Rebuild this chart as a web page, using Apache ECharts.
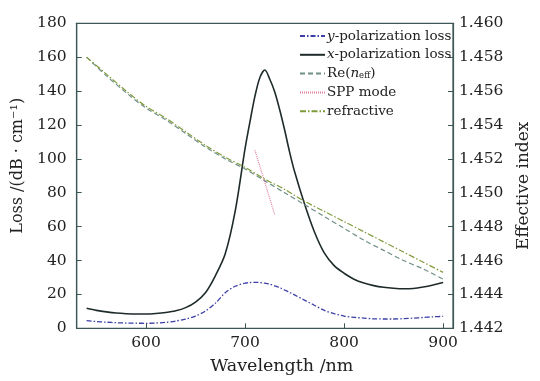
<!DOCTYPE html>
<html><head><meta charset="utf-8">
<script src="https://cdn.jsdelivr.net/npm/echarts@6/dist/echarts.min.js"></script>
<style>html,body{margin:0;padding:0;background:#fff}#c{width:540px;height:381px}</style>
</head><body><div id="c"></div>
<script>
const lossWl = [540,550,560,570,580,590,600,610,620,630,640,650,660,670,680,690,700,705,710,715,720,725,730,735,740,745,750,760,770,780,790,800,810,820,830,840,850,860,870,880,890,900];
const xPolLoss = [11.8,10.6,9.7,9.0,8.6,8.4,8.4,8.7,9.3,10.3,12.2,15.5,21,31,44,69,106,122,137,148,152.4,147,139.5,129,117,104,92.5,73.5,57,44.5,37,32.5,29,26.7,25.2,24.2,23.6,23.3,23.5,24.4,25.6,27];
const yPolLoss = [4.5,4.0,3.6,3.3,3.1,3.0,2.95,3.1,3.5,4.3,5.4,7.2,10.2,14.8,21.0,24.8,26.6,27.0,27.1,27.0,26.6,26.0,25.0,24.0,22.6,21.2,19.7,16.6,13.6,10.6,8.6,7.2,6.5,6.0,5.6,5.5,5.5,5.7,6.0,6.4,6.8,7.0];
const indexWl = [540,560,580,600,620,640,660,680,700,720,740,760,780,800,820,840,860,880,900];
const reNeff = [1.4580,1.4569,1.4559,1.4550,1.4543,1.4535,1.4527,1.4520,1.4514,1.4507,1.4500,1.4493,1.4486,1.4479,1.4472,1.4466,1.4460,1.4455,1.4449];
const refractive = [1.4580,1.4570,1.4560,1.4551,1.4544,1.4536,1.4528,1.4521,1.4515,1.4508,1.4502,1.4495,1.4489,1.4483,1.4477,1.4471,1.4465,1.4459,1.4453];
const sppWl = [710,730];
const sppIndex = [1.4525,1.4487];
const xTicks = [600,700,800,900];
const seriesNames = ['y-polarization loss','x-polarization loss','Re(n_eff)','SPP mode','refractive'];

const pair = (xs, ys) => xs.map((x, i) => [x, ys[i]]);
const FONT = 'DejaVu Serif';
const AX = '#3d5656';

const chart = echarts.init(document.getElementById('c'), null, {renderer: 'canvas'});
chart.setOption({
  animation: false,
  backgroundColor: '#fff',
  grid: {left: 76.7, right: 76.7, top: 23.3, bottom: 52.7, show: true, borderColor: AX, borderWidth: 1.2},
  legend: {
    orient: 'vertical', left: 294, top: 24, itemWidth: 25, itemHeight: 14, itemGap: 4.8,
    itemStyle: {opacity: 0},
    textStyle: {fontFamily: FONT, fontSize: 13.5, color: '#222', padding: [0,0,0,-3],
      rich: {i: {fontFamily: FONT, fontSize: 13.5, fontStyle: 'italic', color: '#222'},
             s: {fontFamily: FONT, fontSize: 8.5, color: '#222', verticalAlign: 'bottom', padding: [4,0,0,0]}}},
    formatter: n => {
      if (n === seriesNames[0]) return '{i|y}-polarization loss';
      if (n === seriesNames[1]) return '{i|x}-polarization loss';
      if (n === seriesNames[2]) return 'Re({i|n}{s|eff})';
      return n;
    },
    data: seriesNames
  },
  xAxis: {
    type: 'value', min: 530, max: 910,
    name: 'Wavelength /nm', nameLocation: 'middle', nameGap: 29,
    nameTextStyle: {fontFamily: FONT, fontSize: 17.5, color: '#222', padding: [0,0,0,34]},
    axisLine: {show: true, lineStyle: {color: AX, width: 1.2}},
    axisTick: {show: true, inside: true, length: 5, customValues: xTicks, lineStyle: {color: AX}},
    axisLabel: {customValues: xTicks, fontFamily: FONT, fontSize: 15.5, color: '#222', margin: 7},
    splitLine: {show: false}
  },
  yAxis: [{
    type: 'value', min: 0, max: 180, interval: 20,
    name: 'Loss /(dB · cm⁻¹)', nameLocation: 'middle', nameGap: 50,
    nameTextStyle: {fontFamily: FONT, fontSize: 16, color: '#222', padding: [0,0,0,20]},
    axisLine: {show: true, lineStyle: {color: AX, width: 1.2}},
    axisTick: {show: true, inside: true, length: 5, lineStyle: {color: AX}},
    axisLabel: {fontFamily: FONT, fontSize: 15.5, color: '#222', margin: 10},
    splitLine: {show: false}
  }, {
    type: 'value', min: 1.442, max: 1.460, interval: 0.002, position: 'right',
    name: 'Effective index', nameLocation: 'middle', nameGap: 62,
    nameTextStyle: {fontFamily: FONT, fontSize: 17, color: '#222', padding: [0,20,0,0]},
    axisLine: {show: true, lineStyle: {color: AX, width: 1.2}},
    axisTick: {show: true, inside: true, length: 5, lineStyle: {color: AX}},
    axisLabel: {fontFamily: FONT, fontSize: 15.5, color: '#222', margin: 6, formatter: v => v.toFixed(3)},
    splitLine: {show: false}
  }],
  series: [
    {name: seriesNames[0], type: 'line', yAxisIndex: 0, data: pair(lossWl, yPolLoss), showSymbol: false, symbol: 'none', smooth: 0.3,
     lineStyle: {color: '#3b3fa6', width: 1.3, type: [5,2,1.5,2]}, itemStyle: {color: '#3b3fa6'}},
    {name: seriesNames[1], type: 'line', yAxisIndex: 0, data: pair(lossWl, xPolLoss), showSymbol: false, symbol: 'none', smooth: 0.3,
     lineStyle: {color: '#1f2b2b', width: 1.6}, itemStyle: {color: '#1f2b2b'}},
    {name: seriesNames[2], type: 'line', yAxisIndex: 1, data: pair(indexWl, reNeff), showSymbol: false, symbol: 'none', smooth: 0.3,
     lineStyle: {color: '#6f8f88', width: 1.2, type: [5,3]}, itemStyle: {color: '#6f8f88'}},
    {name: seriesNames[3], type: 'line', yAxisIndex: 1, data: pair(sppWl, sppIndex), showSymbol: false, symbol: 'none',
     lineStyle: {color: '#e0809a', width: 1.2, type: [1,1]}, itemStyle: {color: '#e0809a'}},
    {name: seriesNames[4], type: 'line', yAxisIndex: 1, data: pair(indexWl, refractive), showSymbol: false, symbol: 'none', smooth: 0.3,
     lineStyle: {color: '#7f9a3a', width: 1.2, type: [6,2,1.5,2]}, itemStyle: {color: '#7f9a3a'}}
  ]
});
</script></body></html>
